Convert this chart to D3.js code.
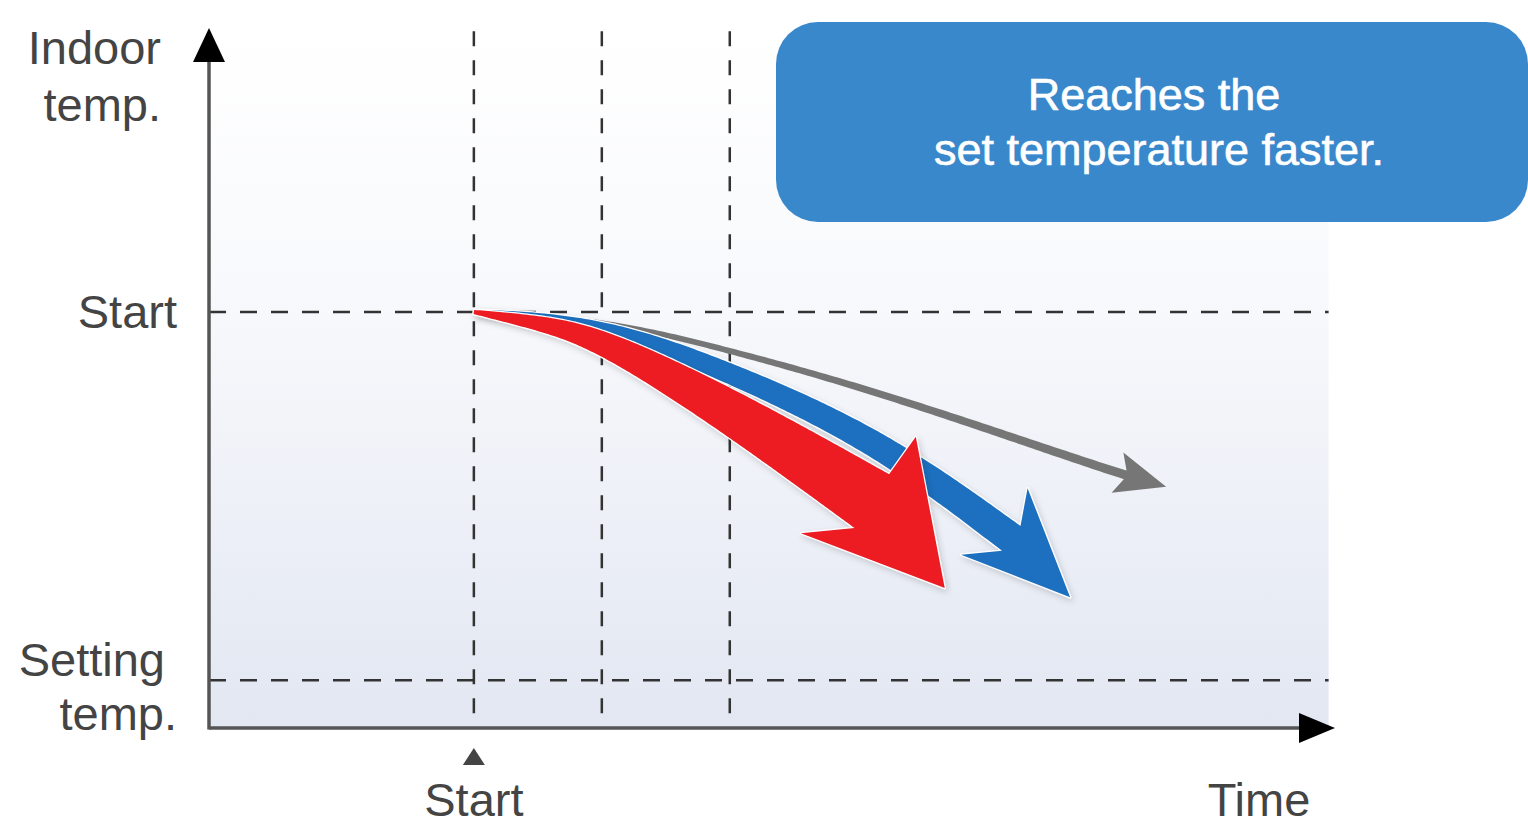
<!DOCTYPE html>
<meta charset="utf-8">
<body>
<script src="https://cdn.jsdelivr.net/npm/d3@7/dist/d3.min.js"></script>
<style>
    html, body {
        margin: 0;
        background: #fff;
    }
    text {
        font-family: "Liberation Sans", Arial, sans-serif;
    }
</style>
<script>
// time: 0 = start, 1 unit per dashed column; temp: setting = 20, start = 28
var timeRange = [-2.07, 6.73],
    tempRange = [18.96, 34.17],
    startTemp = 28,
    settingTemp = 20,
    timeMarks = [0, 1, 2],
    guideEnd = 6.68,
    guideTop = 34.1;

// centre lines of the three cooling curves (last point = where the head starts)
var redCurve = [[0, 28], [0.52, 27.76], [1, 27.41], [2, 25.87], [3.11, 23.89]],
    redTip = [3.68, 22.0],
    blueCurve = [[0, 28], [1, 27.76], [2, 26.7], [3.17, 25.2], [4.2, 23.08]],
    blueTip = [4.66, 21.8],
    grayCurve = [[0, 28], [1, 27.85], [2, 27.17], [3.17, 26.26], [4.73, 24.78], [5.09, 24.46]],
    grayTip = [5.41, 24.2];

var yLabels = [["Indoor", "temp."], ["Start"], ["Setting", "temp."]],
    xLabels = ["Start", "Time"],
    boxText = ["Reaches the", "set temperature faster."];

var width = 1528, height = 826;

var svg = d3.select("body").append("svg")
    .attr("width", width)
    .attr("height", height);

var x = d3.scaleLinear().domain(timeRange).range([209, 1335]),
    y = d3.scaleLinear().domain(tempRange).range([728, 28]);

var defs = svg.append("defs");
var grad = defs.append("linearGradient")
    .attr("id", "bg")
    .attr("x1", 0).attr("y1", 0).attr("x2", 0).attr("y2", 1);
grad.append("stop").attr("offset", 0).attr("stop-color", "#ffffff");
grad.append("stop").attr("offset", 0.38).attr("stop-color", "#f8f9fc");
grad.append("stop").attr("offset", 1).attr("stop-color", "#e2e7f2");

defs.append("filter").attr("id", "shadow")
    .attr("x", "-20%").attr("y", "-20%").attr("width", "140%").attr("height", "140%")
    .append("feDropShadow")
    .attr("dx", 2).attr("dy", 3).attr("stdDeviation", 3)
    .attr("flood-color", "#000").attr("flood-opacity", 0.16);

// plot background
svg.append("rect")
    .attr("x", x(timeRange[0]))
    .attr("y", y(guideTop))
    .attr("width", x(guideEnd) - x(timeRange[0]))
    .attr("height", y(tempRange[0]) - y(guideTop))
    .attr("fill", "url(#bg)");

// dashed guides
svg.selectAll(".hguide")
    .data([startTemp, settingTemp])
    .enter().append("line")
    .attr("x1", x(timeRange[0])).attr("x2", x(guideEnd))
    .attr("y1", function(d) { return y(d); })
    .attr("y2", function(d) { return y(d); })
    .attr("stroke", "#333")
    .attr("stroke-width", 2.5)
    .attr("stroke-dasharray", "17,14");

svg.selectAll(".vguide")
    .data(timeMarks)
    .enter().append("line")
    .attr("x1", function(d) { return x(d); })
    .attr("x2", function(d) { return x(d); })
    .attr("y1", y(guideTop)).attr("y2", y(tempRange[0]))
    .attr("stroke", "#333")
    .attr("stroke-width", 2.5)
    .attr("stroke-dasharray", "15,14");

// axes
svg.append("line")
    .attr("x1", x(timeRange[0])).attr("x2", x(timeRange[0]))
    .attr("y1", y(tempRange[0]) + 1.5).attr("y2", y(tempRange[1]) + 30)
    .attr("stroke", "#555").attr("stroke-width", 3.5);
svg.append("line")
    .attr("x1", x(timeRange[0])).attr("x2", x(timeRange[1]) - 30)
    .attr("y1", y(tempRange[0])).attr("y2", y(tempRange[0]))
    .attr("stroke", "#555").attr("stroke-width", 3.5);

var ax = x(timeRange[0]), ay = y(tempRange[0]);
svg.append("path")
    .attr("d", "M" + ax + "," + y(tempRange[1]) + "L" + (ax + 16) + "," + (y(tempRange[1]) + 34) +
               "L" + (ax - 16) + "," + (y(tempRange[1]) + 34) + "Z")
    .attr("fill", "#000");
svg.append("path")
    .attr("d", "M" + x(timeRange[1]) + "," + ay + "L" + (x(timeRange[1]) - 36) + "," + (ay - 15) +
               "L" + (x(timeRange[1]) - 36) + "," + (ay + 15) + "Z")
    .attr("fill", "#000");

// start marker under the time axis
svg.append("path")
    .attr("d", "M" + x(0) + "," + (ay + 20) + "L" + (x(0) + 11) + "," + (ay + 37) +
               "L" + (x(0) - 11) + "," + (ay + 37) + "Z")
    .attr("fill", "#444");

// labels
var labelStyle = function(t) {
    t.attr("fill", "#444").attr("font-size", 47).attr("text-anchor", "end");
};
svg.append("text").call(labelStyle).attr("x", 161).attr("y", 64).text(yLabels[0][0]);
svg.append("text").call(labelStyle).attr("x", 161).attr("y", 121).text(yLabels[0][1]);
svg.append("text").call(labelStyle).attr("x", 177).attr("y", y(startTemp) + 16).text(yLabels[1][0]);
svg.append("text").call(labelStyle).attr("x", 165).attr("y", y(settingTemp) - 4).text(yLabels[2][0]);
svg.append("text").call(labelStyle).attr("x", 177).attr("y", y(settingTemp) + 50).text(yLabels[2][1]);

svg.append("text").call(labelStyle).attr("text-anchor", "middle")
    .attr("x", x(0)).attr("y", 816).text(xLabels[0]);
svg.append("text").call(labelStyle).attr("text-anchor", "middle")
    .attr("x", 1259).attr("y", 816).text(xLabels[1]);

// callout box
svg.append("rect")
    .attr("x", 776).attr("y", 22)
    .attr("width", 752).attr("height", 200)
    .attr("rx", 42)
    .attr("fill", "#3a88cc");
svg.selectAll(".boxtext")
    .data(boxText)
    .enter().append("text")
    .attr("x", function(d, i) { return i ? 1159 : 1154; })
    .attr("y", function(d, i) { return 110 + i * 55; })
    .attr("text-anchor", "middle")
    .attr("font-size", 45)
    .attr("fill", "#fff")
    .attr("stroke", "#fff")
    .attr("stroke-width", 0.6)
    .text(function(d) { return d; });

// tapered curved arrows
var line = d3.line()
    .x(function(d) { return x(d[0]); })
    .y(function(d) { return y(d[1]); })
    .curve(d3.curveBasis);

function arrowShape(pts, tip, st) {
    var tmp = svg.append("path").attr("d", line(pts)).attr("fill", "none"),
        node = tmp.node(),
        L = node.getTotalLength(),
        n = 160,
        upper = [], lower = [];
    for (var i = 0; i <= n; i++) {
        var s = L * i / n,
            p = node.getPointAtLength(s),
            a = node.getPointAtLength(Math.max(0, s - 1.5)),
            b = node.getPointAtLength(Math.min(L, s + 1.5)),
            dx = b.x - a.x, dy = b.y - a.y, len = Math.hypot(dx, dy),
            w = (st.w0 + (st.w1 - st.w0) * Math.pow(i / n, st.p)) / 2;
        upper.push([p.x + dy / len * w, p.y - dx / len * w]);
        lower.push([p.x - dy / len * w, p.y + dx / len * w]);
    }
    tmp.remove();
    var last = pts[pts.length - 1],
        N = [x(last[0]), y(last[1])],
        T = [x(tip[0]), y(tip[1])],
        hx = T[0] - N[0], hy = T[1] - N[1], hl = Math.hypot(hx, hy);
    hx /= hl; hy /= hl;
    var bx = N[0] - hx * st.sweep, by = N[1] - hy * st.sweep;
    var barbUp = [bx + hy * st.half, by - hx * st.half],
        barbLo = [bx - hy * st.half, by + hx * st.half];
    return upper.concat([barbUp, T, barbLo], lower.reverse());
}

var arrows = [
    {pts: grayCurve, tip: grayTip, color: "#767676", st: {w0: 4, w1: 9, p: 1, half: 21, sweep: 8}, shadow: false},
    {pts: blueCurve, tip: blueTip, color: "#1f6fbf", st: {w0: 3, w1: 31, p: 0.6, half: 47, sweep: 24}, shadow: true},
    {pts: redCurve, tip: redTip, color: "#ec1c24", st: {w0: 4, w1: 64, p: 0.9, half: 75, sweep: 21}, shadow: true}
];

arrows.forEach(function(a) {
    svg.append("path")
        .attr("d", "M" + arrowShape(a.pts, a.tip, a.st).join("L") + "Z")
        .attr("fill", a.color)
        .attr("stroke", "#fff")
        .attr("stroke-width", a.shadow ? 2.5 : 0)
        .attr("stroke-linejoin", "round")
        .style("paint-order", "stroke")
        .attr("filter", a.shadow ? "url(#shadow)" : null);
});
</script>
